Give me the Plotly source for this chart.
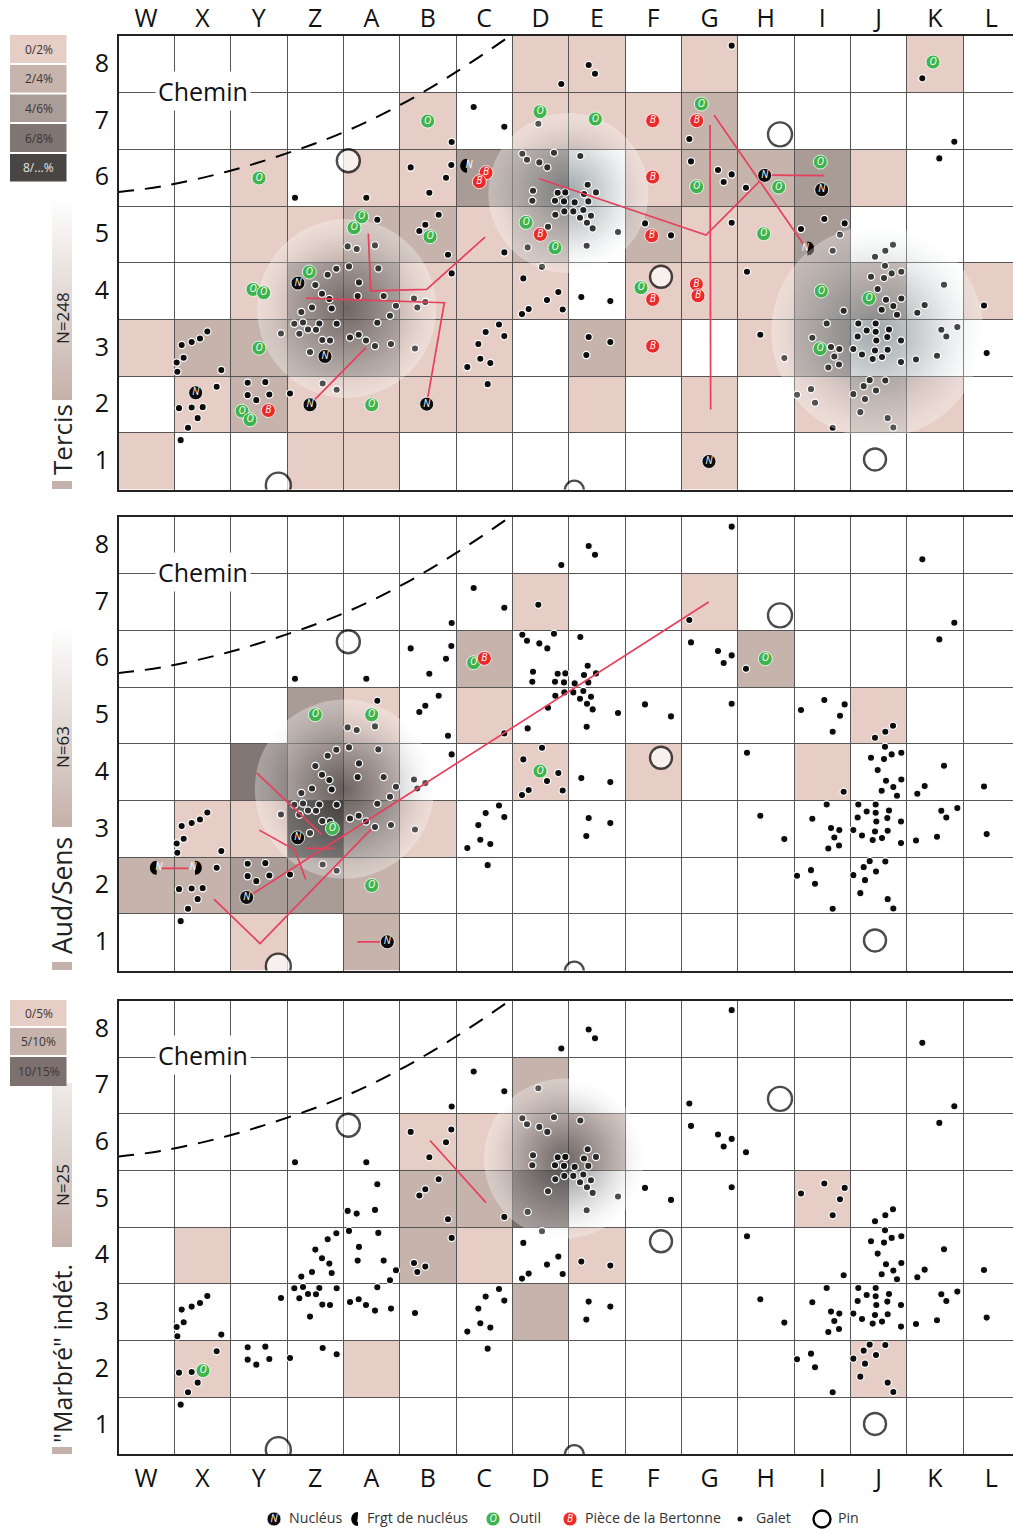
import plotly.graph_objects as go

COLUMNS = list("WXYZABCDEFGHIJKL")
ROWS = [8, 7, 6, 5, 4, 3, 2, 1]
X_START, CELL_W = 354, 169
Y_START, CELL_H = 108, 170
FONT = "Open Sans"

# cell classes, one string per row (8 -> 1), one digit per column (W -> L)
CELLS_TERCIS = ["0000000110100010", "0000010111200000", "0010113301223100", "0011221202113000",
                "0013311101113201", "1223311021013000", "0121111010101210", "1001100000100000"]
CELLS_AUD = ["0000000000000000", "0000000100100000", "0000002000020000", "0003101000000100",
             "0043200101001000", "0115310000000000", "2233200000000000", "0010200000000000"]
CELLS_MARB = ["0000000000000000", "0000000200000000", "0000011220000000", "0000022400001000",
              "0100021010000000", "0000000200000000", "0100100000000100", "0000000000000000"]
CLASS_COLORS = {"1": "#E6CDC5", "2": "#C5B3AC", "3": "#A99B96", "4": "#827774", "5": "#4A4543"}
CLASS_COLORS_MARB = {"1": "#E6CDC5", "2": "#C5B3AC", "4": "#7C716E"}

# Galets (same plan on the three panels)
GALET_X = [1421,1513,1355,1232,1354,1338,1288,885,1099,1316,1276,1258,1132,1344,1513,1355,1043,1070,1125,1047,1135,1009,983,946,1077,
           966,988,1073,1151,1242,1276,1252,1188,936,995,904,1170,883,909,958,1010,1132,924,948,898,843,1497,1457,1513,1435,1441,1471,1402,1463,
           967,990,1050,1076,1098,1125,1173,1245,930,622,600,575,545,551,530,532,664,650,743,796,743,808,769,870,968,1010,537,575,608,593,564,542,
           2195,1766,1785,1684,2767,1615,2863,2068,1567,1581,1618,1642,1662,1741,2073,2154,2195,2171,2238,2818,
           1599,1597,1673,1696,1665,1692,1763,1788,1752,1724,1765,1693,1720,1666,1750,1773,1740,1761,1778,1644,1854,1760,1583,
           1935,2013,2195,2473,2534,2403,2520,2498,2679,2656,2625,2655,2704,2675,2652,2613,2633,2832,
           1626,1570,1675,1641,1586,1566,1688,1744,1831,2241,2658,2704,2680,2645,2691,2774,2752,2531,2952,
           2480,2575,2627,2600,2627,2667,2573,2662,2629,2703,2437,2824,2839,2872,2281,1766,1831,1759,
           2493,2518,2503,2517,2485,2560,2586,2625,2663,2646,2618,2703,2748,2811,2960,2353,
           2609,2656,2591,2628,2560,2595,2433,2391,2445,2581,2663,2680,2498]
GALET_Y = [321,380,426,502,495,533,578,593,593,644,674,693,659,764,757,820,739,747,736,799,805,806,824,855,847,
           881,897,888,888,895,906,922,917,922,925,936,947,971,967,970,971,968,988,989,1001,1000,973,996,1008,1032,1076,1089,1101,1152,
           1020,1021,1012,1004,1021,1038,1032,1045,1056,994,1015,1026,1035,1073,1087,1115,1110,1160,1148,1146,1185,1183,1200,1180,1150,1169,1224,1222,1221,1254,1283,1320,
           137,195,221,252,235,371,425,417,461,479,487,502,458,468,484,510,523,546,563,475,
           572,602,578,577,602,604,554,577,582,607,604,634,634,644,630,647,653,668,685,680,696,737,742,
           670,706,668,657,670,687,704,752,734,752,770,797,815,820,834,830,867,854,
           800,835,876,900,927,942,928,891,903,815,899,895,918,929,944,915,938,932,916,
           970,970,970,991,995,988,1009,1011,1021,1021,1013,989,1009,981,1004,1011,1026,1065,
           1041,1047,1069,1093,1102,1047,1063,1051,1049,1071,1077,1086,1078,1067,1059,1074,
           1140,1141,1158,1171,1182,1197,1167,1184,1208,1236,1254,1282,1283]

# Pins (x, y, diameter)
PIN_X = [1045, 835, 2340, 1983, 2625, 1723]
PIN_Y = [482, 1455, 403, 830, 1378, 1470]
PIN_D = [23, 25, 24, 22, 22, 19]

# Chemin
PATH_X = [354, 490, 680, 860, 1030, 1200, 1370, 1530]
PATH_Y = [576, 558, 515, 460, 397, 315, 215, 108]

# Tercis
T_NUC_X = [894, 975, 587, 930, 1280, 2294, 2465, 2127]
T_NUC_Y = [849, 1069, 1178, 1214, 1212, 526, 569, 1384]
T_OUT_X = [777,1283,1085,1062,1290,928,759,791,777,1115,726,750,1620,1786,2104,2799,2461,2090,2336,1578,1665,2291,1923,2464,2607,2460]
T_OUT_Y = [534,363,650,683,710,816,868,878,1044,1214,1233,1259,335,357,312,186,486,560,561,667,743,701,863,873,895,1046]
T_BER_X = [1458,1438,805,1958,2090,1958,1621,1955,1958,2089,2094,1958]
T_BER_Y = [518,545,1231,362,362,531,703,707,898,852,887,1038]
T_FRAG = [(1407, 497, "L"), (2416, 745, "R")]
T_LINES_X = [1105,1112,1280,1455,None,918,1333,1283,None,945,1097,None,1618,2118,2278,None,2315,2473,None,2142,2412,None,2130,2132]
T_LINES_Y = [700,872,868,711,None,894,908,1195,None,1198,1043,None,536,705,545,None,525,527,None,345,735,None,375,1228]
T_HALOS = [(1040, 925, 179, "70,62,60"), (1705, 579, 160, "85,100,105"), (2632, 995, 212, "85,100,105")]

# Aud/Sens
A_NUC_X = [893, 740, 1162]
A_NUC_Y = [1070, 1249, 1382]
A_OUT_X = [946,1115,997,1115,1421,1620,2296]
A_OUT_Y = [701,701,1042,1213,545,870,533]
A_BER_X = [1453]
A_BER_Y = [532]
A_FRAG = [(476, 1160, "L"), (579, 1160, "R")]
A_LINES_X = [770,965,None,778,885,917,None,915,1003,None,760,2126,None,642,780,1113,None,480,565,None,1072,1145]
A_LINES_Y = [875,1060,None,1047,1107,1195,None,1102,1102,None,1237,363,None,1254,1387,1045,None,1162,1162,None,1382,1382]
A_HALOS = [(1033, 924, 179, "45,42,42")]

# "Marbré" indét.
M_OUT_X = [609]
M_OUT_Y = [1218]
M_LINES_X = [1290, 1458]
M_LINES_Y = [528, 714]
M_HALOS = [(1692, 582, 160, "45,45,48")]

# Left scales and bottom key
SCALE_TOP_LABELS = ["0/2%", "2/4%", "4/6%", "6/8%", "8/...%"]
SCALE_TOP_COLORS = ["#E6CDC5", "#C6B4AD", "#AA9C97", "#7F7572", "#494542"]
SCALE_BOTTOM_LABELS = ["0/5%", "5/10%", "10/15%"]
SCALE_BOTTOM_COLORS = ["#E6CDC5", "#C5B3AC", "#7C716E"]
KEY_LABELS = ["Nucléus", "Frgt de nucléus", "Outil", "Pièce de la Bertonne", "Galet", "Pin"]
KEY_LABEL_X = [289, 367, 509, 585, 756, 838]
RED = "#E6405C"
GREEN = "#3FB44E"
BERT = "#EC2A2A"
W, H = 1013, 1530
PANEL_TOPS = [36, 517, 1000.5]
PANEL_H = 453.5

fig = go.Figure()
x_borders = [X_START + CELL_W * i for i in range(len(COLUMNS) + 1)]
y_borders = [Y_START + CELL_H * i for i in range(len(ROWS) + 1)]
x_centers = [X_START + CELL_W * (i + .5) for i in range(len(COLUMNS))]
y_centers = [Y_START + CELL_H * (i + .5) - 3 for i in range(len(ROWS))]

shapes, annotations = [], []


def panel_axes(n):
    top = PANEL_TOPS[n]
    return dict(
        x=dict(domain=[119 / W, 1], range=[357, 3039], anchor=f"y{n+1 if n else ''}", automargin=False,
               tickmode="array", tickvals=x_centers, ticktext=COLUMNS,
               showticklabels=n != 1, side="top" if n == 0 else "bottom", ticks="", ticklabelstandoff=-3 if n == 0 else 1,
               tickfont=dict(family=FONT, size=25, color="#111"), showgrid=False, zeroline=False,
               showline=True, mirror=True, linecolor="#222", linewidth=2,
               minor=dict(tickmode="array", tickvals=x_borders, showgrid=True, gridcolor="#555", gridwidth=1, ticks="")),
        y=dict(domain=[1 - (top + PANEL_H) / H, 1 - top / H], range=[1468, 108], anchor=f"x{n+1 if n else ''}", automargin=False,
               tickmode="array", tickvals=y_centers, ticktext=[str(r) for r in ROWS], ticks="", ticklabelstandoff=3,
               tickfont=dict(family=FONT, size=25, color="#111"), showgrid=False, zeroline=False,
               showline=True, mirror=False, linecolor="#222", linewidth=2,
               minor=dict(tickmode="array", tickvals=y_borders, showgrid=True, gridcolor="#555", gridwidth=1, ticks="")),
    )


def add_cells(matrix, colors, xr, yr):
    for ri, row in enumerate(matrix):
        for ci, c in enumerate(row):
            if c != "0":
                shapes.append(dict(type="rect", xref=xr, yref=yr, layer="below", line_width=0, fillcolor=colors[c],
                                   x0=x_borders[ci], x1=x_borders[ci + 1], y0=y_borders[ri], y1=y_borders[ri + 1]))


def halo_under(h, xr, yr):
    for (x, y, d, c) in h:
        for k, a in ((1.0, .38), (.85, .22), (.68, .12)):
            fig.add_trace(go.Scatter(x=[x], y=[y], xaxis=xr, yaxis=yr, mode="markers", hoverinfo="skip", showlegend=False,
                                     marker=dict(size=d * k, color=f"rgba({c},0)", line_width=0,
                                                 gradient=dict(type="radial", color=f"rgba({c},{a})"))))


def halo_over(h, xr, yr):
    for (x, y, d, c) in h:
        fig.add_trace(go.Scatter(x=[x], y=[y], xaxis=xr, yaxis=yr, mode="markers", hoverinfo="skip", showlegend=False,
                                 marker=dict(size=d, color="rgba(255,255,255,.32)", line_width=0,
                                             gradient=dict(type="radial", color="rgba(255,255,255,0)"))))


def symbols(xs, ys, color, letter, xr, yr, size=14):
    if not xs:
        return
    fig.add_trace(go.Scatter(x=xs, y=ys, xaxis=xr, yaxis=yr, mode="markers+text", showlegend=False, hoverinfo="skip",
                             text=[f"<i>{letter}</i>"] * len(xs), textposition="middle center",
                             textfont=dict(family=FONT, size=10, color="white"),
                             marker=dict(size=size, color=color, line=dict(color="white", width=.8))))


def frags(items, xr, yr):
    """Fragment of a nucleus: half a disc, drawn with a path sized in pixels at its data position."""
    if not items:
        return
    for (x, y, side) in items:
        s = -1 if side == "L" else 1
        path = f"M {s * 2} -7 C {s * 11} -7 {s * 11} 7 {s * 2} 7 Z"
        shapes.append(dict(type="path", xref=xr, yref=yr, xsizemode="pixel", ysizemode="pixel", xanchor=x, yanchor=y,
                           path=path, fillcolor="black", line_width=0, layer="between"))
    xs = [i[0] for i in items]; ys = [i[1] for i in items]
    fig.add_trace(go.Scatter(x=xs, y=ys, xaxis=xr, yaxis=yr, mode="text", text=["<i>N</i>"] * len(xs), showlegend=False,
                             hoverinfo="skip", textposition="middle center",
                             textfont=dict(family=FONT, size=10, color="white")))


def panel(n, matrix, colors, halos, lines, nuc, out, ber, frag):
    sfx = str(n + 1) if n else ""
    xr, yr = "x" + sfx, "y" + sfx
    add_cells(matrix, colors, xr, yr)
    halo_under(halos, xr, yr)
    fig.add_trace(go.Scatter(x=GALET_X, y=GALET_Y, xaxis=xr, yaxis=yr, mode="markers", showlegend=False, hoverinfo="skip",
                             marker=dict(size=7.3, color="#0c0c0c", line=dict(color="white", width=1.2))))
    halo_over(halos, xr, yr)
    fig.add_trace(go.Scatter(x=PATH_X, y=PATH_Y, xaxis=xr, yaxis=yr, mode="lines", showlegend=False, hoverinfo="skip",
                             line=dict(color="black", width=2, shape="spline", dash="16px,11px")))
    fig.add_trace(go.Scatter(x=PIN_X, y=PIN_Y, xaxis=xr, yaxis=yr, mode="markers", showlegend=False, hoverinfo="skip",
                             marker=dict(size=PIN_D, color="white", line=dict(color="black", width=2.4))))
    fig.add_trace(go.Scatter(x=lines[0], y=lines[1], xaxis=xr, yaxis=yr, mode="lines", showlegend=False, hoverinfo="skip",
                             line=dict(color=RED, width=1.7)))
    frags(frag, xr, yr)
    symbols(nuc[0], nuc[1], "#0c0c0c", "N", xr, yr)
    symbols(out[0], out[1], GREEN, "O", xr, yr)
    symbols(ber[0], ber[1], BERT, "B", xr, yr)
    annotations.append(dict(x=610, y=272, xref=xr, yref=yr, text="Chemin", showarrow=False, bgcolor="white", borderpad=2,
                            font=dict(family=FONT, size=25, color="#111")))


panel(0, CELLS_TERCIS, CLASS_COLORS, T_HALOS, (T_LINES_X, T_LINES_Y), (T_NUC_X, T_NUC_Y), (T_OUT_X, T_OUT_Y), (T_BER_X, T_BER_Y), T_FRAG)
panel(1, CELLS_AUD, CLASS_COLORS, A_HALOS, (A_LINES_X, A_LINES_Y), (A_NUC_X, A_NUC_Y), (A_OUT_X, A_OUT_Y), (A_BER_X, A_BER_Y), A_FRAG)
panel(2, CELLS_MARB, CLASS_COLORS_MARB, M_HALOS, (M_LINES_X, M_LINES_Y), ([], []), (M_OUT_X, M_OUT_Y), ([], []), [])

# ---- page-level decoration axis (pixels of the page)
PX, PY = "x4", "y4"


def grad_bar(top, bottom, top_color="#FFFFFF"):
    fig.add_trace(go.Scatter(x=[52, 72, 72, 52, 52], y=[top, top, bottom, bottom, top], xaxis=PX, yaxis=PY, mode="lines",
                             line_width=0, fill="toself", showlegend=False, hoverinfo="skip",
                             fillgradient=dict(type="vertical", colorscale=[[0, "#C4B1A9"], [1, top_color]])))


grad_bar(197, 400); grad_bar(625, 827); grad_bar(1083, 1247, "#EFEBE9")


def swatch(y0, y1, color="#C4B1A9", x0=52, x1=72):
    shapes.append(dict(type="rect", xref=PX, yref=PY, layer="above", line_width=0, fillcolor=color, x0=x0, x1=x1, y0=y0, y1=y1))


swatch(481, 489); swatch(962, 970); swatch(1447, 1454)

for lab, col, (a, b) in zip(SCALE_TOP_LABELS, SCALE_TOP_COLORS, [(35, 63), (65, 92.5), (94.5, 122), (124, 152), (154, 181.5)]):
    swatch(a, b, col, 10, 66.5)
    annotations.append(dict(x=38.5, y=(a + b) / 2, xref=PX, yref=PY, text=lab, showarrow=False,
                            font=dict(family=FONT, size=12, color="#E8E4E2" if lab.startswith("8") else "#3c3633")))
for lab, col, (a, b) in zip(SCALE_BOTTOM_LABELS, SCALE_BOTTOM_COLORS, [(1000, 1026), (1028, 1055), (1057, 1086)]):
    swatch(a, b, col, 10, 66.5)
    annotations.append(dict(x=38.5, y=(a + b) / 2, xref=PX, yref=PY, text=lab, showarrow=False,
                            font=dict(family=FONT, size=12, color="#3c3633")))

for txt, y, sz in [("Tercis", 440, 26), ("N=248", 318, 17), ("Aud/Sens", 896, 26.5), ("N=63", 747, 17),
                   ("\"Marbré\" indét.", 1354, 25), ("N=25", 1185, 17)]:
    annotations.append(dict(x=62, y=y, xref=PX, yref=PY, text=txt, textangle=-90, showarrow=False,
                            font=dict(family=FONT, size=sz, color="#222")))

# bottom key
KY = 1519
symbols([274], [KY], "#0c0c0c", "N", PX, PY, 14)
frags([(360, KY, "L")], PX, PY)
symbols([493], [KY], GREEN, "O", PX, PY, 14)
symbols([570], [KY], BERT, "B", PX, PY, 14)
fig.add_trace(go.Scatter(x=[740], y=[KY], xaxis=PX, yaxis=PY, mode="markers", showlegend=False, hoverinfo="skip",
                         marker=dict(size=5, color="#111")))
fig.add_trace(go.Scatter(x=[822], y=[KY], xaxis=PX, yaxis=PY, mode="markers", showlegend=False, hoverinfo="skip",
                         marker=dict(size=17, color="white", line=dict(color="black", width=2.4))))
fig.add_trace(go.Scatter(x=KEY_LABEL_X, y=[KY] * len(KEY_LABELS), xaxis=PX, yaxis=PY, mode="text", text=KEY_LABELS,
                         textposition="middle right", showlegend=False, hoverinfo="skip",
                         textfont=dict(family=FONT, size=14.2, color="#333")))

ax0, ax1, ax2 = panel_axes(0), panel_axes(1), panel_axes(2)
fig.update_layout(
    width=W, height=H, margin=dict(l=0, r=0, t=0, b=0, autoexpand=False), paper_bgcolor="white", plot_bgcolor="rgba(0,0,0,0)",
    showlegend=False, shapes=shapes, annotations=annotations,
    xaxis=ax0["x"], yaxis=ax0["y"], xaxis2=ax1["x"], yaxis2=ax1["y"], xaxis3=ax2["x"], yaxis3=ax2["y"],
    xaxis4=dict(domain=[0, 1], range=[0, W], visible=False, anchor="y4", fixedrange=True, automargin=False),
    yaxis4=dict(domain=[0, 1], range=[H, 0], visible=False, anchor="x4", fixedrange=True, automargin=False),
)
fig.write_html("out.html", config=dict(displayModeBar=False),
               post_script="document.body.style.margin='0';document.body.style.overflow='hidden';")
